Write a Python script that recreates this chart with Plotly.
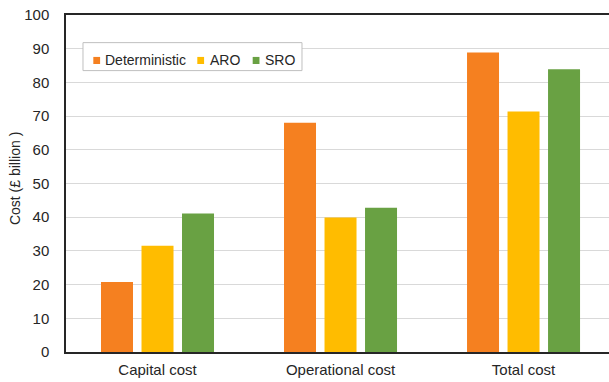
import plotly.graph_objects as go

categories = ["Capital cost", "Operational cost", "Total cost"]
series_names = ["Deterministic", "ARO", "SRO"]
deterministic = [20.8, 68.0, 88.9]
aro = [31.5, 39.9, 71.4]
sro = [41.1, 42.8, 83.9]
series_values = [deterministic, aro, sro]
colors = ["#F58020", "#FFBC00", "#69A143"]
y_ticks = [0, 10, 20, 30, 40, 50, 60, 70, 80, 90, 100]

FONT = "Liberation Sans, Arial, sans-serif"
TEXT = "#262626"

fig = go.Figure()
for name, vals, col in zip(series_names, series_values, colors):
    fig.add_trace(go.Bar(
        x=categories, y=vals, name=name,
        marker=dict(color=col, line=dict(width=0)),
        showlegend=False,
    ))

# Legend: framed box with small colour squares and series names
fig.add_shape(type="rect", xref="paper", yref="paper",
              x0=0.0313, x1=0.4346, y0=0.835, y1=0.918,
              line=dict(color="#BFBFBF", width=1), fillcolor="white", layer="above")
square_x = [0.0503, 0.2418, 0.3438]
label_x = [0.068, 0.262, 0.363]
for name, col, sx, lx in zip(series_names, colors, square_x, label_x):
    fig.add_shape(type="rect", xref="paper", yref="paper",
                  x0=sx, x1=sx + 0.0125, y0=0.8546, y1=0.8756,
                  line=dict(width=0), fillcolor=col, layer="above")
    fig.add_annotation(xref="paper", yref="paper", x=lx, y=0.8665,
                       xanchor="left", yanchor="middle", showarrow=False,
                       text=name, font=dict(family=FONT, size=14, color=TEXT))

# Vertical axis title
fig.add_annotation(xref="paper", yref="paper", x=-0.094, y=0.516,
                   xanchor="center", yanchor="middle", showarrow=False,
                   textangle=-90, text="Cost (£ billion )",
                   font=dict(family=FONT, size=14, color=TEXT))

fig.update_layout(
    width=609, height=382,
    margin=dict(l=66, r=0, t=15, b=30),
    paper_bgcolor="white", plot_bgcolor="white",
    barmode="group", bargap=0.336, bargroupgap=0.21,
    font=dict(family=FONT, size=15, color=TEXT),
)
fig.update_xaxes(
    range=[-0.5, 2.467], showline=True, linecolor="#262626", linewidth=1.5,
    mirror=True, showgrid=False, ticks="", tickfont=dict(size=15),
    ticklabelstandoff=3,
)
fig.update_yaxes(
    range=[0, 100], tickvals=y_ticks, showline=True, linecolor="#262626",
    linewidth=1.5, showgrid=True, gridcolor="#D9D9D9", gridwidth=1,
    zeroline=False, ticks="", ticklabelstandoff=12, tickfont=dict(size=15),
)

fig.write_html("out.html")
